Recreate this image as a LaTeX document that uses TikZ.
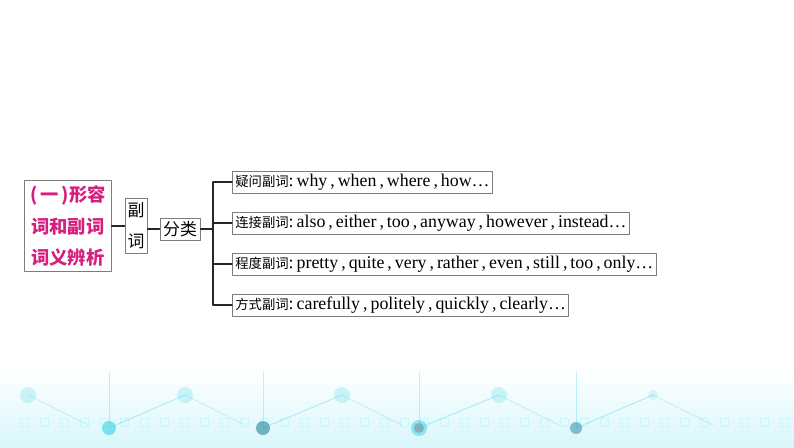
\documentclass[tikz,border=0pt]{standalone}
\usepackage{fontspec}
\setmainfont{Liberation Serif}
\newfontfamily\cjk{Noto Sans CJK SC}
\usetikzlibrary{positioning}
\definecolor{boxgray}{RGB}{125,125,125}
\definecolor{titlepink}{RGB}{214,31,125}
\definecolor{techcyan}{RGB}{80,215,235}
\definecolor{techteal}{RGB}{60,150,170}
\newcommand\cma{\,,\,}
\newcommand\zh[1]{{\cjk\fontsize{9.5}{10}\selectfont #1}}
\begin{document}
\begin{tikzpicture}[x=0.025cm, y=-0.025cm, line cap=round, line join=round,
  box/.style={draw=boxgray, line width=0.7pt, inner sep=0pt, align=center},
  branch/.style={box, anchor=west, minimum height=0.55cm, inner xsep=2pt,
    font=\fontsize{12.7}{14}\selectfont},
  link/.style={draw=black!85, line width=0.8pt},
  dot/.style={fill=techcyan, draw=none}]
  \useasboundingbox (0,0) rectangle (794,447);
  % fondo
  \shade[top color=white, bottom color=techcyan!22] (0,368) rectangle (794,447);
  \foreach \x in {20,40,...,780}
    \draw[techcyan, opacity=0.15, line width=0.6pt] (\x,418) rectangle ++(8,8);
  \foreach \x/\xx in {109/185,263/342,419/499,576/653}{
    \draw[techcyan, opacity=0.45, line width=0.6pt] (\x,428) -- (\xx,395);
    \draw[techcyan, opacity=0.35, line width=0.6pt] (\x,428) -- (\x,372);
  }
  \foreach \x in {28,185,342,499,653}
    \draw[techcyan, opacity=0.3, line width=0.6pt] (\x,395) -- ++(60,30);
  \foreach \x in {28,185,342,499}
    \fill[dot, opacity=0.25] (\x,395) circle (8);
  \fill[dot, opacity=0.2] (653,395) circle (5);
  \fill[dot, opacity=0.7] (109,428) circle (7);
  \fill[techteal, opacity=0.7] (263,428) circle (7);
  \fill[dot, opacity=0.6] (419,428) circle (8);
  \fill[gray, opacity=0.5] (419,428) circle (5);
  \fill[techteal, opacity=0.6] (576,428) circle (6);
  % titulo
  \node[box, minimum width=2.15cm, minimum height=2.25cm, text=titlepink,
    font=\cjk\bfseries\fontsize{13}{22.3}\selectfont] (title) at (68,226)
    {(\,一\,)形容\\词和副词\\词义辨析};
  \node[box, minimum width=0.55cm, minimum height=1.375cm,
    font=\cjk\fontsize{12}{22}\selectfont] (adverb) at (136,225.5) {副\\词};
  \node[box, minimum width=1cm, minimum height=0.55cm,
    font=\cjk\fontsize{12}{14}\selectfont] (kinds) at (180,229) {分类};
  % ramas
  \node[branch] (ask) at (232,182)
    {\zh{疑问副词}:\,why\cma when\cma where\cma how\ldots};
  \node[branch] (join) at (232,223)
    {\zh{连接副词}:\,also\cma either\cma too\cma anyway\cma however\cma instead\ldots};
  \node[branch] (degree) at (232,264)
    {\zh{程度副词}:\,pretty\cma quite\cma very\cma rather\cma even\cma still\cma too\cma only\ldots};
  \node[branch] (manner) at (232,305)
    {\zh{方式副词}:\,carefully\cma politely\cma quickly\cma clearly\ldots};
  % lineas
  \coordinate (split) at (213,229);
  \draw[link] (title.east) -- (title.east -| adverb.west);
  \draw[link] (adverb.east |- kinds.west) -- (kinds.west);
  \draw[link] (kinds.east) -- (split);
  \draw[link] (split |- ask.west) -- (split |- manner.west);
  \foreach \b in {ask,join,degree,manner}
    \draw[link] (split |- \b.west) -- (\b.west);
\end{tikzpicture}
\end{document}
